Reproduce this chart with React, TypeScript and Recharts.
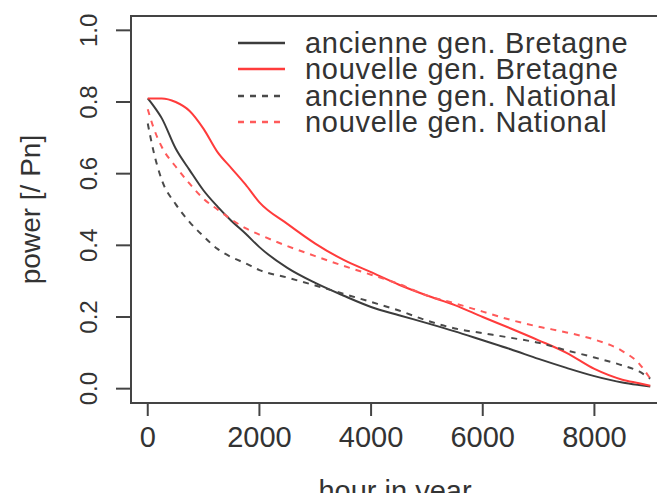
import React from "react";
import { Legend, Line, LineChart, ReferenceArea, XAxis, YAxis } from "recharts";

// hours of the year (sorted load duration curves)
const hours = [0, 100, 250, 500, 750, 1000, 1250, 1500, 1750, 2000, 2500, 3000, 3500, 4000, 4500, 5000, 5500, 6000, 6500, 7000, 7500, 8000, 8500, 8800, 9000];

const ancienneBretagne = [0.81, 0.79, 0.755, 0.67, 0.61, 0.553, 0.508, 0.468, 0.433, 0.395, 0.337, 0.295, 0.26, 0.228, 0.205, 0.183, 0.16, 0.135, 0.11, 0.083, 0.058, 0.035, 0.017, 0.01, 0.006];
const nouvelleBretagne = [0.81, 0.81, 0.81, 0.8, 0.775, 0.725, 0.66, 0.615, 0.57, 0.52, 0.46, 0.405, 0.36, 0.325, 0.29, 0.26, 0.233, 0.2, 0.168, 0.135, 0.1, 0.055, 0.025, 0.015, 0.008];
const ancienneNational = [0.74, 0.665, 0.583, 0.515, 0.465, 0.425, 0.39, 0.367, 0.35, 0.331, 0.31, 0.288, 0.265, 0.242, 0.218, 0.19, 0.168, 0.155, 0.142, 0.128, 0.107, 0.087, 0.065, 0.048, 0.028];
const nouvelleNational = [0.78, 0.73, 0.675, 0.62, 0.572, 0.53, 0.5, 0.472, 0.448, 0.43, 0.398, 0.37, 0.343, 0.318, 0.292, 0.26, 0.238, 0.215, 0.192, 0.173, 0.157, 0.137, 0.105, 0.07, 0.028];

const xTicks = [0, 2000, 4000, 6000, 8000];
const yTicks = [0, 0.2, 0.4, 0.6, 0.8, 1.0];

const series = [
  { key: "ab", name: "ancienne gen. Bretagne", color: "#3c3c3c", dash: undefined },
  { key: "nb", name: "nouvelle gen. Bretagne", color: "#ff3b3b", dash: undefined },
  { key: "an", name: "ancienne gen. National", color: "#4a4a4a", dash: "6 6" },
  { key: "nn", name: "nouvelle gen. National", color: "#ff5a5a", dash: "6 6" },
];

const data = hours.map((h, i) => ({
  h,
  ab: ancienneBretagne[i],
  nb: nouvelleBretagne[i],
  an: ancienneNational[i],
  nn: nouvelleNational[i],
}));

const FONT = "'Liberation Sans', Arial, sans-serif";
const INK = "#333";

function YTick(props: any) {
  const { x, y, payload } = props;
  return (
    <text
      x={x}
      y={y}
      transform={`rotate(-90 ${x} ${y})`}
      textAnchor="middle"
      fontSize={24}
      fill={INK}
      fontFamily={FONT}
    >
      {Number(payload.value).toFixed(1)}
    </text>
  );
}

function LegendBox() {
  return (
    <div style={{ fontFamily: FONT, fontSize: 29, color: INK, letterSpacing: 0.7 }}>
      {series.map((s) => (
        <div key={s.key} style={{ display: "flex", height: 26.3, lineHeight: "26px", whiteSpace: "nowrap" }}>
          <svg width={47} height={26} style={{ marginRight: 20, flex: "none" }}>
            <line x1={0} x2={47} y1={13} y2={13} stroke={s.color} strokeWidth={2.5} strokeDasharray={s.dash} />
          </svg>
          <span>{s.name}</span>
        </div>
      ))}
    </div>
  );
}

export default function App() {
  return (
    <div style={{ position: "fixed", left: 0, top: 0, width: 657, height: 493, overflow: "hidden", background: "#fff" }}>
      <LineChart width={680} height={493} data={data} margin={{ top: 16, right: 13, bottom: 0, left: 0 }}>
        <XAxis
          dataKey="h"
          type="number"
          domain={[-300, 9300]}
          ticks={xTicks}
          allowDataOverflow
          height={90}
          tickSize={13}
          tickMargin={10}
          stroke="#444"
          strokeWidth={2}
          tick={{ fontSize: 29, fill: INK, fontFamily: FONT }}
          label={{ value: "hour in year", position: "insideBottom", offset: -8, dx: -4, fontSize: 29, fill: INK, fontFamily: FONT }}
        />
        <YAxis
          type="number"
          domain={[-0.04, 1.04]}
          ticks={yTicks}
          allowDataOverflow
          width={131}
          tickSize={15}
          tickMargin={19}
          stroke="#444"
          strokeWidth={2}
          tick={<YTick />}
          label={{
            content: (p: any) => {
              const vb = p.viewBox || { x: 0, y: 16, width: 131, height: 387 };
              const cx = vb.x + 40;
              const cy = vb.y + vb.height / 2;
              return (
                <text x={cx} y={cy} transform={`rotate(-90 ${cx} ${cy})`} textAnchor="middle" fontSize={28} fill={INK} fontFamily={FONT}>
                  power [/ Pn]
                </text>
              );
            },
          }}
        />
        <ReferenceArea x1={-300} x2={9300} y1={-0.04} y2={1.04} fill="none" stroke="#444" strokeWidth={2} ifOverflow="visible" />
        {series.map((s) => (
          <Line
            key={s.key}
            dataKey={s.key}
            name={s.name}
            type="monotone"
            stroke={s.color}
            strokeWidth={2}
            strokeDasharray={s.dash}
            dot={false}
            activeDot={false}
            isAnimationActive={false}
          />
        ))}
        <Legend
          layout="vertical"
          align="center"
          verticalAlign="middle"
          content={() => <LegendBox />}
          wrapperStyle={{ left: 238, top: 30, width: 420 }}
        />
      </LineChart>
    </div>
  );
}
